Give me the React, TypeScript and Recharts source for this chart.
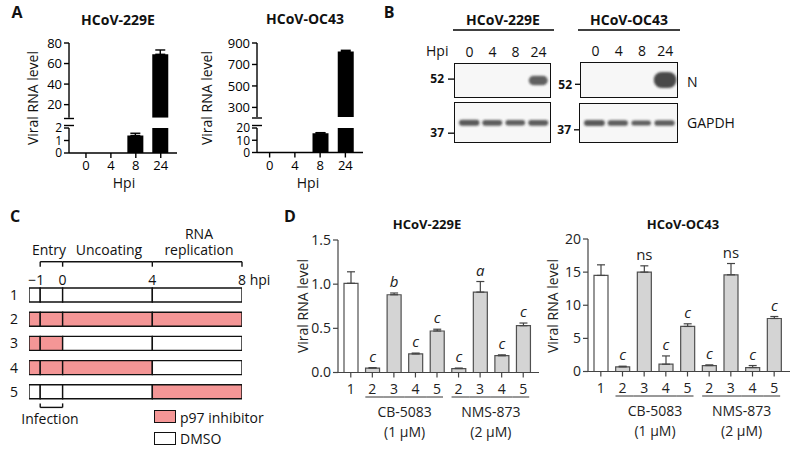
import React from 'react';
import { BarChart, Bar, XAxis, YAxis, ErrorBar, Cell, LabelList } from 'recharts';

const FONT = '"Open Sans", sans-serif';
const PINK = '#f49696';

// ---- panel A: viral RNA over time ----
const hpi = ['0', '4', '8', '24'];
const rna229E = [0, 0, 1.4, 69];
const rna229EErr = [0, 0, 0.18, 4.2];
const rnaOC43 = [0, 0, 15.8, 820];
const rnaOC43Err = [0, 0, 0.4, 12];

// ---- panel B: western blot band intensities (0..1) ----
const nBand229E = [0, 0, 0, 0.65];
const nBandOC43 = [0, 0, 0, 1];
const gapdhBand229E = [0.8, 0.75, 0.72, 0.75];
const gapdhBandOC43 = [0.8, 0.75, 0.68, 0.75];
const markerKda = ['52', '37'];
const marker229E = [0.54, 0.25];
const markerOC43 = [0.38, 0.33];

// ---- panel C: treatment scheme ----
const scheme = ['1', '2', '3', '4', '5'];
const phaseFrom = [-1.5, -1, 0, 4];
const phaseTo = [-1, 0, 4, 8];
const inhibited = [
  [0, 0, 0, 0],
  [1, 1, 1, 1],
  [1, 1, 0, 0],
  [1, 1, 1, 0],
  [0, 0, 0, 1],
];
const hpiMarks = [-1, 0, 4, 8];
const infectionWindow = [-1, 0];

// ---- panel D: inhibitor treatments ----
const dTreat = ['1', '2', '3', '4', '5', '2', '3', '4', '5'];
const dDrug = ['', 'CB-5083', 'CB-5083', 'CB-5083', 'CB-5083', 'NMS-873', 'NMS-873', 'NMS-873', 'NMS-873'];
const dDose = ['', '(1 µM)', '(1 µM)', '(1 µM)', '(1 µM)', '(2 µM)', '(2 µM)', '(2 µM)', '(2 µM)'];
const d229E = [1.01, 0.05, 0.88, 0.21, 0.47, 0.045, 0.91, 0.19, 0.53];
const d229EErr = [0.13, 0.005, 0.02, 0.01, 0.02, 0.005, 0.12, 0.01, 0.03];
const d229ESig = ['', 'c', 'b', 'c', 'c', 'c', 'a', 'c', 'c'];
const dOC43 = [14.5, 0.7, 15.0, 1.1, 6.8, 0.9, 14.6, 0.6, 8.0];
const dOC43Err = [1.6, 0.1, 0.95, 1.25, 0.4, 0.1, 1.7, 0.3, 0.3];
const dOC43Sig = ['', 'c', 'ns', 'c', 'c', 'c', 'ns', 'c', 'c'];

type Rect = { x: number; y: number; w: number; h: number };

// place a chart so that its plot area lands on rect p
function frame(p: Rect, yw: number, xb: number, pad: any = {}, xt = 0) {
  const l = pad.l ?? 0, t = pad.t ?? 8, r = pad.r ?? 6, b = pad.b ?? 0;
  return {
    style: { position: 'absolute' as const, left: p.x - yw - l, top: p.y - xt - t },
    width: l + yw + p.w + r,
    height: t + xt + p.h + xb + b,
    margin: { left: l, top: t, right: r, bottom: b },
  };
}

function Txt({ x, y, size = 14, bold, anchor = 'middle', rotate, color = '#111', children }: any) {
  const tx = anchor === 'middle' ? '-50%' : anchor === 'end' ? '-100%' : '0';
  return (
    <div
      style={{
        position: 'absolute', left: x, top: y, fontSize: size, fontWeight: bold ? 700 : 400, color,
        whiteSpace: 'nowrap', lineHeight: 1.2,
        transform: `translate(${tx}, -50%)${rotate ? ' rotate(-90deg)' : ''}`,
      }}
    >
      {children}
    </div>
  );
}

const axA = { stroke: '#000', strokeWidth: 1.4 };
const tickA = { fontSize: 13, fill: '#000' };
const tickALow = { fontSize: 12, fill: '#000' };

function RnaPanel({ vals, errs, upDom, upTicks, loDom, loTicks, up, lo, pad }: any) {
  const cut = upDom[0];
  const upData = hpi.map((h, i) => ({ h, v: vals[i] > cut ? vals[i] : null, e: vals[i] > cut && errs[i] > 0 ? [0, errs[i]] : null }));
  const loData = hpi.map((h, i) => ({ h, v: vals[i], e: vals[i] <= loDom[1] && errs[i] > 0 ? [0, errs[i]] : null }));
  const fu = frame(up, 40, 0, { t: 10 });
  const fl = frame(lo, 40, 40, { t: 8 });
  return (
    <>
      <div style={fu.style}>
        <BarChart width={fu.width} height={fu.height} margin={fu.margin} data={upData} barSize={16}>
          <XAxis dataKey="h" hide padding={pad} />
          <YAxis type="number" domain={upDom} allowDataOverflow ticks={upTicks} interval={0} width={40}
            tickSize={5} tickMargin={2} axisLine={axA} tickLine={axA} tick={tickA} />
          <Bar dataKey="v" fill="#000" isAnimationActive={false}>
            <ErrorBar dataKey="e" width={5} stroke="#000" strokeWidth={1.4} />
          </Bar>
        </BarChart>
      </div>
      <div style={fl.style}>
        <BarChart width={fl.width} height={fl.height} margin={fl.margin} data={loData} barSize={16}>
          <XAxis dataKey="h" height={40} padding={pad} interval={0} tickSize={5} tickMargin={3}
            axisLine={axA} tickLine={axA} tick={tickA} />
          <YAxis type="number" domain={loDom} allowDataOverflow ticks={loTicks} interval={0} width={40}
            tickSize={5} tickMargin={2} axisLine={axA} tickLine={axA} tick={tickALow} />
          <Bar dataKey="v" fill="#000" isAnimationActive={false}>
            <ErrorBar dataKey="e" width={5} stroke="#000" strokeWidth={1.4} />
          </Bar>
        </BarChart>
      </div>
    </>
  );
}

const bandShape = (thick: number) => (p: any) => {
  const a = p.payload.a;
  if (!a) return <g />;
  const w = p.width * (0.55 + 0.45 * a);
  const h = thick * Math.pow(a, 1.2);
  const cx = p.x + p.width / 2;
  return (
    <rect x={cx - w / 2} y={p.y - h / 2} width={w} height={h} rx={h / 2} fill="#2a2a2a"
      fillOpacity={0.5 + 0.35 * a} filter="url(#bandBlur)" />
  );
};

function Blot({ rect, bands, markers, markerLabels, labels, thick, tickSize, tickMargin }: any) {
  const data = hpi.map((h, i) => ({ h, pos: 0.5, a: bands[i] }));
  const f = frame(rect, 45, 0, { t: 2, r: 2 }, labels ? 22 : 0);
  const pad = { left: 4, right: 1 };
  const barW = (rect.w - 5) / 4 - 0.5;
  return (
    <>
      <div style={{ position: 'absolute', left: rect.x, top: rect.y, width: rect.w, height: rect.h, boxSizing: 'border-box', border: '1.5px solid #111', background: '#f7f7f7' }} />
      <div style={f.style}>
        <BarChart width={f.width} height={f.height} margin={f.margin} data={data} barSize={barW}>
          {labels ? (
            <XAxis dataKey="h" orientation="top" height={22} padding={pad} interval={0} axisLine={false}
              tickLine={false} tickSize={0} tickMargin={6} tick={{ fontSize: 14, fill: '#111' }} />
          ) : (
            <XAxis dataKey="h" hide padding={pad} />
          )}
          <YAxis type="number" domain={[0, 1]} ticks={markers} interval={0} width={45} axisLine={false}
            tickSize={tickSize} tickMargin={tickMargin} tickLine={{ stroke: '#111', strokeWidth: 1.4 }}
            tickFormatter={(v: number) => markerLabels[markers.indexOf(v)]}
            tick={{ fontSize: 12, fontWeight: 700, fill: '#111' }} />
          <Bar dataKey="pos" isAnimationActive={false} shape={bandShape(thick)} />
        </BarChart>
      </div>
    </>
  );
}

// panel C geometry
const cPlot: Rect = { x: 29, y: 283.3, w: 213, h: 121 };
const cDom = [-1.5, 8];
const pxPerHour = cPlot.w / (cDom[1] - cDom[0]);

function SchemePanel() {
  const data = scheme.map((row) => {
    const d: any = { row };
    phaseFrom.forEach((s, k) => { d['s' + k] = [s, phaseTo[k]]; });
    return d;
  });
  const f = frame(cPlot, 29, 0, { t: 2, r: 40, b: 10 }, 29);
  // tick draws the hour label plus the bracket pieces that belong to this hour
  const markTick = (p: any) => {
    const v = p.payload.value;
    const k = hpiMarks.indexOf(v);
    const top = p.y;
    const yb = top - 21.3;
    const yi = top + cPlot.h + 3.4;
    const next = hpiMarks[k + 1];
    const last = next === undefined;
    const j = infectionWindow.indexOf(v);
    let label: any;
    if (v < 0) {
      label = <text x={p.x + 4} y={top + 1.7} textAnchor="end" fontSize={14} fill="#111">{'\u2212' + Math.abs(v)}</text>;
    } else {
      label = (
        <text x={last ? p.x - 4 : p.x} y={top + 1.7} textAnchor={last ? 'start' : 'middle'} fontSize={14} fill="#111">
          {last ? `${v} hpi` : v}
        </text>
      );
    }
    return (
      <g>
        <g stroke="#111" strokeWidth={1.4}>
          <line x1={p.x} x2={p.x} y1={yb} y2={yb + 5} />
          {!last && <line x1={p.x} x2={p.x + (next - v) * pxPerHour} y1={yb} y2={yb} />}
          {j >= 0 && <line x1={p.x} x2={p.x} y1={yi - 4} y2={yi} />}
          {j === 0 && <line x1={p.x} x2={p.x + (infectionWindow[1] - v) * pxPerHour} y1={yi} y2={yi} />}
        </g>
        {label}
      </g>
    );
  };
  return (
    <div style={f.style}>
      <BarChart layout="vertical" width={f.width} height={f.height} margin={f.margin} data={data} barSize={14} barGap={-14}>
        <XAxis type="number" orientation="top" domain={cDom} allowDataOverflow ticks={hpiMarks} interval={0}
          height={29} axisLine={false} tickLine={false} tickSize={0} tickMargin={0} tick={markTick} />
        <YAxis type="category" dataKey="row" width={29} axisLine={false} tickLine={false} tickSize={6}
          tickMargin={5} interval={0} tick={{ fontSize: 14, fill: '#111' }} />
        {phaseFrom.map((_, k) => (
          <Bar key={k} dataKey={'s' + k} stroke="#111" strokeWidth={1.4} isAnimationActive={false}>
            {scheme.map((s, i) => <Cell key={s} fill={inhibited[i][k] ? PINK : '#fff'} />)}
          </Bar>
        ))}
      </BarChart>
    </div>
  );
}

const axD = { stroke: '#444', strokeWidth: 1.2 };

function InhibitorPanel({ vals, errs, sig, plot, dom, ticks, fmt }: any) {
  const data = vals.map((v: number, i: number) => ({ k: i, v, e: [0, errs[i]], s: sig[i] }));
  const pad = { left: 2, right: 5 };
  const band = (plot.w - pad.left - pad.right) / vals.length;
  const f = frame(plot, 48, 75, { t: 10, r: 4 });
  const xTick = (p: any) => {
    const i = Number(p.payload.value);
    const x = p.x, y = p.y;
    const g = dDrug[i];
    const first = g && dDrug[i - 1] !== g;
    const last = g && dDrug[i + 1] !== g;
    const start = dDrug.indexOf(g);
    const n = dDrug.filter((d) => d === g).length;
    const mid = g && i - start === n / 2 - 1;
    return (
      <g>
        <text x={x} y={y} dy="0.71em" textAnchor="middle" fontSize={14} fill="#222">{dTreat[i]}</text>
        {g && (
          <line x1={first ? x - 7 : x - band / 2} x2={last ? x + 6 : x + band / 2} y1={y + 12.5} y2={y + 12.5}
            stroke="#333" strokeWidth={1} />
        )}
        {mid && (
          <>
            <text x={x + band / 2} y={y + 32.5} textAnchor="middle" fontSize={14} fill="#222">{g}</text>
            <text x={x + band / 2} y={y + 52.5} textAnchor="middle" fontSize={14} fill="#222">{dDose[i]}</text>
          </>
        )}
      </g>
    );
  };
  const sigLabel = (p: any) => {
    const vb = p.viewBox || p;
    const i = p.index;
    const s = p.value;
    if (!s || i == null) return null;
    const ppu = vb.height / vals[i];
    const top = vb.y - errs[i] * ppu;
    return (
      <text x={vb.x + vb.width / 2} y={top - 6} textAnchor="middle" fontSize={15}
        fontStyle={s.length === 1 ? 'italic' : 'normal'} fill="#222">{s}</text>
    );
  };
  return (
    <div style={f.style}>
      <BarChart width={f.width} height={f.height} margin={f.margin} data={data} barSize={14}>
        <XAxis dataKey="k" type="category" height={75} padding={pad} interval={0} tickSize={5} tickMargin={7}
          axisLine={axD} tickLine={axD} tick={xTick} />
        <YAxis type="number" domain={dom} ticks={ticks} interval={0} width={48} tickSize={5} tickMargin={2}
          axisLine={axD} tickLine={axD} tickFormatter={fmt} tick={{ fontSize: 14, fill: '#222' }} />
        <Bar dataKey="v" stroke="#505050" strokeWidth={1.2} isAnimationActive={false}>
          {data.map((d: any) => <Cell key={d.k} fill={d.k === 0 ? '#fff' : '#d4d4d4'} />)}
          <ErrorBar dataKey="e" width={4} stroke="#444" strokeWidth={1.2} />
          <LabelList dataKey="s" content={sigLabel} />
        </Bar>
      </BarChart>
    </div>
  );
}

export default function App() {
  return (
    <div style={{ position: 'absolute', left: 0, top: 0, width: 794, height: 453, background: '#fff', fontFamily: FONT, overflow: 'hidden', color: '#111' }}>
      <svg width={0} height={0} style={{ position: 'absolute' }}>
        <defs>
          <filter id="bandBlur" x="-50%" y="-80%" width="200%" height="260%">
            <feGaussianBlur stdDeviation="1.3" />
          </filter>
        </defs>
      </svg>

      {/* A */}
      <RnaPanel vals={rna229E} errs={rna229EErr} upDom={[7.3, 80]} upTicks={[20, 40, 60, 80]} loDom={[0, 2]} loTicks={[0, 1, 2]}
        up={{ x: 69, y: 43.3, w: 108, h: 74.7 }} lo={{ x: 69, y: 127.5, w: 108, h: 25 }} pad={{ left: 4.5, right: 3.8 }} />
      <RnaPanel vals={rnaOC43} errs={rnaOC43Err} upDom={[209, 900]} upTicks={[300, 500, 700, 900]} loDom={[0, 20]} loTicks={[0, 10, 20]}
        up={{ x: 257, y: 43.3, w: 106, h: 74.2 }} lo={{ x: 257, y: 127.5, w: 106, h: 24.5 }} pad={{ left: 0, right: 5 }} />

      {/* B */}
      <Blot rect={{ x: 454, y: 63, w: 97, h: 35 }} bands={nBand229E} markers={[marker229E[0]]} markerLabels={[markerKda[0]]} labels thick={16} tickSize={6} tickMargin={4} />
      <Blot rect={{ x: 454, y: 101.7, w: 97, h: 41.6 }} bands={gapdhBand229E} markers={[marker229E[1]]} markerLabels={[markerKda[1]]} thick={8} tickSize={6} tickMargin={4} />
      <Blot rect={{ x: 579.5, y: 62, w: 98, h: 36 }} bands={nBandOC43} markers={[markerOC43[0]]} markerLabels={[markerKda[0]]} labels thick={16} tickSize={5} tickMargin={3} />
      <Blot rect={{ x: 579, y: 103, w: 98.5, h: 40 }} bands={gapdhBandOC43} markers={[markerOC43[1]]} markerLabels={[markerKda[1]]} thick={8} tickSize={5} tickMargin={3} />

      {/* C */}
      <SchemePanel />

      {/* D */}
      <InhibitorPanel vals={d229E} errs={d229EErr} sig={d229ESig} plot={{ x: 338, y: 240, w: 201, h: 132.5 }}
        dom={[0, 1.5]} ticks={[0, 0.5, 1, 1.5]} fmt={(v: number) => v.toFixed(1)} />
      <InhibitorPanel vals={dOC43} errs={dOC43Err} sig={dOC43Sig} plot={{ x: 588, y: 239, w: 202, h: 132.5 }}
        dom={[0, 20]} ticks={[0, 5, 10, 15, 20]} fmt={(v: number) => String(v)} />

      {/* axis breaks and blot header rules */}
      <svg width={794} height={453} style={{ position: 'absolute', left: 0, top: 0, pointerEvents: 'none' }}>
        <g stroke="#000" strokeWidth={1.4}>
          <line x1={64} x2={74} y1={118.5} y2={118.5} />
          <line x1={64} x2={74} y1={125.5} y2={125.5} />
          <line x1={252} x2={262} y1={118} y2={118} />
          <line x1={252} x2={262} y1={125.5} y2={125.5} />
          <line x1={453} x2={554} y1={30} y2={30} />
          <line x1={578} x2={680} y1={30} y2={30} />
        </g>
      </svg>

      {/* text */}
      <Txt x={17} y={13} size={16} bold>A</Txt>
      <Txt x={389} y={13} size={16} bold>B</Txt>
      <Txt x={15} y={217} size={16} bold>C</Txt>
      <Txt x={290} y={217} size={16} bold>D</Txt>

      <Txt x={118} y={20} bold>HCoV-229E</Txt>
      <Txt x={305} y={19} bold>HCoV-OC43</Txt>
      <Txt x={33} y={98} size={14} rotate>Viral RNA level</Txt>
      <Txt x={207} y={98} size={14} rotate>Viral RNA level</Txt>
      <Txt x={124} y={183} size={14}>Hpi</Txt>
      <Txt x={308} y={183} size={14}>Hpi</Txt>

      <Txt x={503} y={20} bold>HCoV-229E</Txt>
      <Txt x={629} y={20} bold>HCoV-OC43</Txt>
      <Txt x={426} y={51} anchor="start">Hpi</Txt>
      <Txt x={687} y={82} anchor="start">N</Txt>
      <Txt x={687} y={123} anchor="start">GAPDH</Txt>

      <Txt x={49} y={250}>Entry</Txt>
      <Txt x={109} y={250}>Uncoating</Txt>
      <Txt x={199} y={234}>RNA</Txt>
      <Txt x={199} y={250}>replication</Txt>
      <Txt x={50} y={419}>Infection</Txt>
      <div style={{ position: 'absolute', left: 154, top: 410, width: 22, height: 13, boxSizing: 'border-box', border: '1.4px solid #111', background: PINK }} />
      <div style={{ position: 'absolute', left: 154, top: 432, width: 22, height: 13, boxSizing: 'border-box', border: '1.4px solid #111', background: '#fff' }} />
      <Txt x={180} y={418} anchor="start">p97 inhibitor</Txt>
      <Txt x={180} y={439} anchor="start">DMSO</Txt>

      <Txt x={427} y={225} size={13} bold>HCoV-229E</Txt>
      <Txt x={683} y={225} size={13} bold>HCoV-OC43</Txt>
      <Txt x={303} y={306} size={14} rotate color="#222">Viral RNA level</Txt>
      <Txt x={553} y={306} size={14} rotate color="#222">Viral RNA level</Txt>
    </div>
  );
}
